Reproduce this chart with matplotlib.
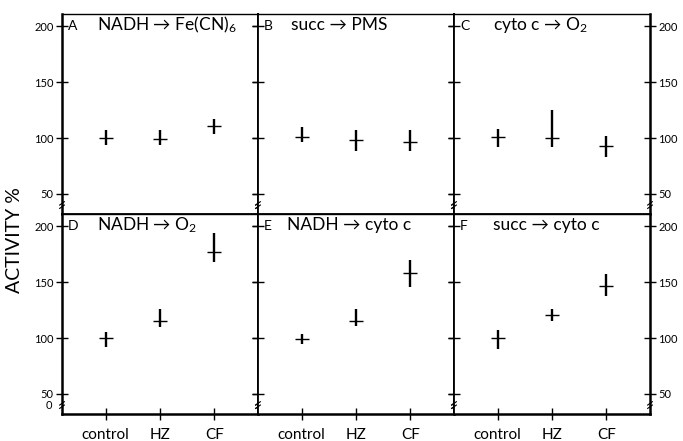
import numpy as np
import matplotlib
matplotlib.use('Agg')
import matplotlib.pyplot as plt

plt.rcParams['font.family'] = ['Lato', 'DejaVu Sans']
plt.rcParams['mathtext.fontset'] = 'custom'
plt.rcParams['mathtext.rm'] = 'Lato'
plt.rcParams['mathtext.it'] = 'Lato:italic'

# Data (activity %, centre and bar ends)
groups = ['control', 'HZ', 'CF']
panel_letters = ['A', 'B', 'C', 'D', 'E', 'F']
panel_titles = [
    'NADH \u2192 Fe(CN)$_6$',
    'succ \u2192 PMS',
    'cyto c \u2192 O$_2$',
    'NADH \u2192 O$_2$',
    'NADH \u2192 cyto c',
    'succ \u2192 cyto c',
]
centre = [
    [100, 99, 111],
    [101, 98, 96],
    [101, 100, 93],
    [100, 115, 177],
    [99, 115, 158],
    [100, 121, 147],
]
low = [
    [94, 94, 104],
    [96, 88, 88],
    [92, 92, 83],
    [92, 110, 168],
    [95, 111, 146],
    [90, 115, 138],
]
high = [
    [107, 107, 117],
    [110, 107, 107],
    [108, 125, 102],
    [105, 126, 194],
    [104, 126, 170],
    [107, 126, 157],
]
yticks = [50, 100, 150, 200]

fig, axes = plt.subplots(2, 3, figsize=(6.83, 4.41), dpi=100)
fig.subplots_adjust(left=62/683, right=650/683, top=1-14/441,
                    bottom=1-414/441, wspace=0, hspace=0)

xpos = np.arange(1, len(groups) + 1)
title_x = [0.18, 0.17, 0.2, 0.18, 0.15, 0.2]

for i, ax in enumerate(axes.flat):
    row, col = divmod(i, 3)
    c = np.array(centre[i])
    lo = c - np.array(low[i])
    hi = np.array(high[i]) - c
    ax.errorbar(xpos, c, yerr=[lo, hi], fmt='none', ecolor='black',
                elinewidth=1.7, capsize=0)
    ax.plot(xpos, c, linestyle='none', marker='_', markersize=10,
            markeredgewidth=1.0, color='black')

    ax.set_xlim(0.2, 3.8)
    ax.set_ylim(32, 211)
    ax.set_yticks(yticks)

    for s in ax.spines.values():
        s.set_linewidth(1.3)
    ax.spines['top'].set_linewidth(1.0)
    if row == 1:
        ax.spines['bottom'].set_linewidth(1.8)
    if col == 0:
        ax.spines['left'].set_linewidth(1.8)
    if col == 2:
        ax.spines['right'].set_linewidth(1.8)

    ax.tick_params(axis='y', which='both', direction='inout', length=8,
                   width=1.0, left=True, right=True,
                   labelleft=(col == 0), labelright=(col == 2),
                   labelsize=8, pad=2)
    if row == 1:
        ax.set_xticks(xpos)
        ax.set_xticklabels(groups)
        ax.tick_params(axis='x', direction='inout', length=8, width=1.0,
                       labelsize=11, pad=6)
    else:
        ax.set_xticks([])

    # panel letter and title
    ax.text(0.03, 200, panel_letters[i], fontsize=10, va='center',
            ha='left', transform=ax.get_yaxis_transform())
    ax.text(title_x[i], 201, panel_titles[i], fontsize=12.5, va='center',
            ha='left', transform=ax.get_yaxis_transform())

    # axis break marks near the bottom of each vertical axis
    for xa in (0, 1):
        for dy in (-1.5, 1.5):
            ax.plot([xa - 0.012, xa + 0.012], [40 + dy - 1.5, 40 + dy + 1.5],
                    color='black', linewidth=0.8, clip_on=False,
                    transform=ax.get_yaxis_transform())

axes[1, 0].text(-0.05, 40, '0', fontsize=8, ha='right', va='center',
                transform=axes[1, 0].get_yaxis_transform())

fig.text(15/683, 1-240/441, 'ACTIVITY %', rotation=90,
         fontsize=14, ha='center', va='center')

fig.savefig('out.png', dpi=100)
